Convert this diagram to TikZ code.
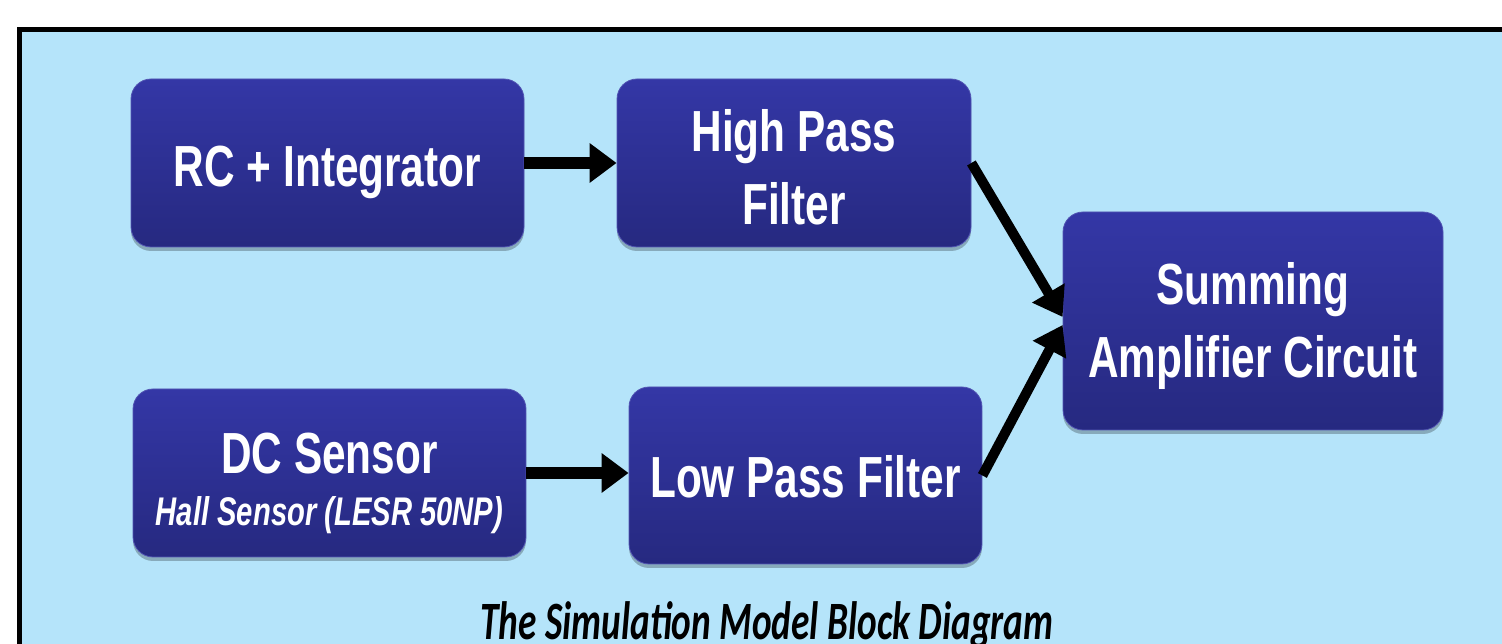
\documentclass[tikz,border=0pt]{standalone}
\usepackage{fontspec}
\setmainfont{Liberation Sans}
\newfontfamily\boxfont[FakeStretch=0.73]{Liberation Sans}
\newfontfamily\titlefont[FakeStretch=0.69]{Carlito}
\usetikzlibrary{arrows.meta,shadows}
\definecolor{bgblue}{RGB}{181,228,250}
\definecolor{boxtop}{RGB}{52,55,166}
\definecolor{boxbot}{RGB}{38,41,128}
\tikzset{
  blk/.style={rounded corners=20pt, top color=boxtop, bottom color=boxbot,
    draw=boxtop!85!white, line width=0.8pt,
    drop shadow={shadow xshift=0pt, shadow yshift=-4pt, opacity=0.25, fill=black},
    text=white, align=center, inner sep=0pt,
    font=\boxfont\bfseries\fontsize{58}{73}\selectfont},
  harr/.style={line width=12pt, -{Triangle[length=27pt,width=38pt]}},
  darr/.style={line width=10pt, -{Triangle[length=28pt,width=36pt]}},
}
\begin{document}
\begin{tikzpicture}[x=1pt,y=1pt]
\useasboundingbox (0,0) rectangle (1502,644);
\clip (0,0) rectangle (1502,644);
\draw[line width=5pt, fill=bgblue] (19.5,614.5) rectangle (1540,-40);

\node[blk, minimum width=393pt, minimum height=168pt, text height=48pt, text depth=0pt] (rc) at (327.5,481) {RC + Integrator};
\node[blk, minimum width=354pt, minimum height=168pt] (hpf) at (794,481) {\rule{0pt}{50pt}High Pass\\Filter};
\node[blk, minimum width=380pt, minimum height=218pt] (sum) at (1253,323) {\rule{0pt}{52pt}Summing\\Amplifier Circuit};
\node[blk, minimum width=393pt, minimum height=168pt] (dc) at (329.5,171) {\rule{0pt}{61pt}DC Sensor\\[-21pt]{\fontsize{40}{53}\selectfont\itshape Hall Sensor (LESR 50NP)}};
\node[blk, minimum width=353pt, minimum height=177pt, text height=45pt, text depth=0pt] (lpf) at (805.5,168.5) {Low Pass Filter};

\draw[harr] (rc.east) -- (hpf.west |- rc.east);
\draw[harr] (dc.east) -- (lpf.west |- dc.east);
\draw[darr] (hpf.east) -- ([yshift=4pt]sum.west);
\draw[darr] (lpf.east) -- ([yshift=-4pt]sum.west);

\node[font=\titlefont\bfseries\itshape\fontsize{54}{60}\selectfont, anchor=base, inner sep=0pt] (title) at (767,4) {The Simulation Model Block Diagram};
\end{tikzpicture}
\end{document}
